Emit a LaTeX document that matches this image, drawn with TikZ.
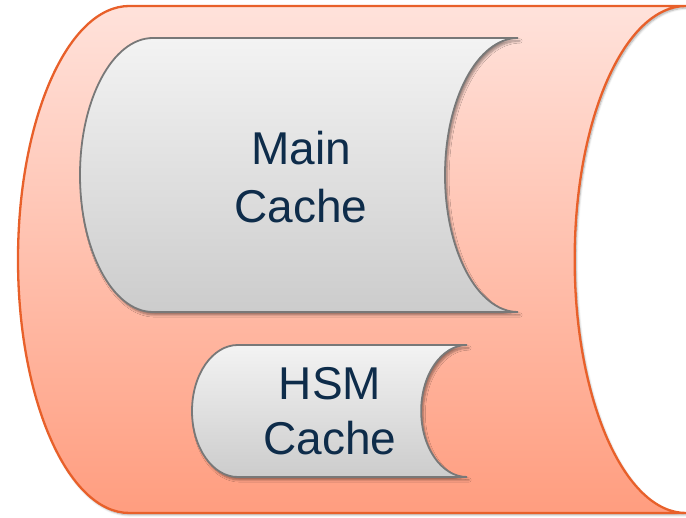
\documentclass[tikz,border=0pt]{standalone}
\usepackage{fontspec}
\setmainfont{Liberation Sans}
\usetikzlibrary{shadows.blur}

\definecolor{outerTop}{RGB}{255,226,219}
\definecolor{outerBot}{RGB}{255,157,127}
\definecolor{outerLine}{RGB}{232,96,42}
\definecolor{cacheTop}{RGB}{243,243,243}
\definecolor{cacheBot}{RGB}{204,204,204}
\definecolor{cacheLine}{RGB}{120,120,120}
\definecolor{labelInk}{RGB}{14,44,74}

% stored-data outline: convex left side, concave right side
% #1 style, #2 left x, #3 bottom y, #4 right x, #5 top y
\newcommand\storedshape[5]{%
  \pgfmathsetmacro\sr{(#4-#2)/6}%
  \pgfmathsetmacro\sh{(#5-#3)/2}%
  \path[#1] (#2+\sr,#5) -- (#4,#5)
    arc[start angle=90,end angle=270,x radius=\sr pt,y radius=\sh pt]
    -- (#2+\sr,#3)
    arc[start angle=270,end angle=90,x radius=\sr pt,y radius=\sh pt]
    -- cycle;}

\tikzset{
  outerbox/.style={draw=outerLine, line width=2.3pt, top color=outerTop, bottom color=outerBot,
    blur shadow={shadow xshift=1.5pt, shadow yshift=-2pt, shadow blur steps=6, shadow opacity=35}},
  cachebox/.style={draw=cacheLine, line width=1.8pt, top color=cacheTop, bottom color=cacheBot,
    blur shadow={shadow xshift=2pt, shadow yshift=-3pt, shadow blur steps=6, shadow opacity=40}},
  cachelabel/.style={text=labelInk, align=center, inner sep=0pt}
}

\begin{document}
\begin{tikzpicture}[x=1pt,y=1pt]
  \useasboundingbox (0,0) rectangle (686,518);

  % enclosing store
  \storedshape{outerbox}{18}{5}{686}{512}

  % main cache
  \storedshape{cachebox}{80}{206}{518}{480}
  \node[cachelabel, font=\fontsize{46}{58}\selectfont] (main) at (301,340.5) {Main\\Cache};

  % HSM cache
  \storedshape{cachebox}{192}{41}{467}{173}
  \node[cachelabel, font=\fontsize{46}{55}\selectfont] (hsm) at (330,107) {HSM\\Cache};
\end{tikzpicture}
\end{document}
